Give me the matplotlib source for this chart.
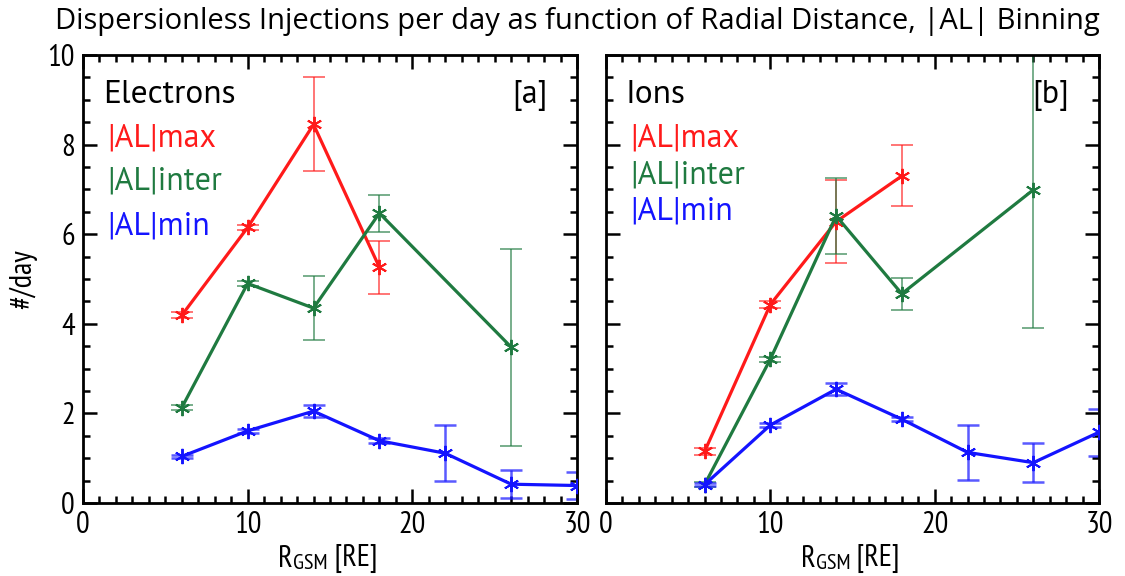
import numpy as np
import matplotlib
matplotlib.use('Agg')
import matplotlib.pyplot as plt
from matplotlib.ticker import MultipleLocator

# Datos: Electrones [a]
x_e_max = [6, 10, 14, 18]
y_e_max = [4.19, 6.15, 8.45, 5.26]
err_e_max = [0.07, 0.05, 1.05, 0.59]

x_e_inter = [6, 10, 14, 18, 26]
y_e_inter = [2.13, 4.90, 4.35, 6.47, 3.48]
err_e_inter = [0.06, 0.05, 0.72, 0.41, 2.2]

x_e_min = [6, 10, 14, 18, 22, 26, 30]
y_e_min = [1.04, 1.61, 2.05, 1.39, 1.11, 0.42, 0.39]
err_e_min = [0.04, 0.04, 0.13, 0.05, 0.62, 0.31, 0.30]

# Datos: Iones [b]
x_i_max = [6, 10, 14, 18]
y_i_max = [1.15, 4.43, 6.28, 7.30]
err_i_max = [0.08, 0.08, 0.93, 0.68]

x_i_inter = [6, 10, 14, 18, 26]
y_i_inter = [0.41, 3.21, 6.41, 4.67, 6.99]
err_i_inter = [0.05, 0.06, 0.85, 0.36, 3.08]

x_i_min = [6, 10, 14, 18, 22, 26, 30]
y_i_min = [0.41, 1.74, 2.54, 1.87, 1.13, 0.90, 1.58]
err_i_min = [0.03, 0.04, 0.14, 0.04, 0.62, 0.44, 0.52]

labels = ['|AL|max', '|AL|inter', '|AL|min']
colores = ['#ff1a1a', '#1f7a40', '#1414ff']
grosor_err = [1.2, 1.2, 1.8]

narrow = ['PT Sans Narrow', 'DejaVu Sans']
normal = ['PT Sans', 'DejaVu Sans']


def panel(ax, series, nombre, letra, ylabels, leg_y):
    for (xx, yy, ee), c, g in zip(series, colores, grosor_err):
        ax.errorbar(xx, yy, yerr=ee, fmt='none', ecolor=c, elinewidth=g,
                    capsize=8, capthick=g, alpha=0.7, zorder=2)
        ax.plot(xx, yy, color=c, lw=2.3, marker=(6, 2, 0), ms=11, mew=1.4,
                zorder=3)
    ax.set_xlim(0, 30)
    ax.set_ylim(0, 10)
    ax.xaxis.set_major_locator(MultipleLocator(10))
    ax.xaxis.set_minor_locator(MultipleLocator(1))
    ax.yaxis.set_major_locator(MultipleLocator(2))
    ax.yaxis.set_minor_locator(MultipleLocator(0.5))
    ax.tick_params(which='both', direction='in', top=True, right=True,
                   width=1.8)
    ax.tick_params(which='major', length=10, labelsize=22, pad=6)
    ax.tick_params(which='minor', length=5)
    for s in ax.spines.values():
        s.set_linewidth(2)
    for t in ax.get_xticklabels() + ax.get_yticklabels():
        t.set_family(narrow)
    if not ylabels:
        ax.set_yticklabels([])
    ax.text(0.04, 0.91, nombre, transform=ax.transAxes, fontsize=24,
            family=normal, va='center')
    ax.text(0.94, 0.91, letra, transform=ax.transAxes, fontsize=23,
            family=normal, va='center', ha='right')
    for lab, c, yy in zip(labels, colores, leg_y):
        ax.text(0.05, yy, lab, transform=ax.transAxes, fontsize=23,
                family=normal, va='center', color=c)
    # etiqueta x: R + GSM en versalitas + [RE]
    t1 = ax.text(0.5 - 0.075, -0.143, 'R', transform=ax.transAxes,
                 fontsize=22, family=narrow, ha='right', va='baseline')
    t2 = ax.annotate('GSM', xy=(1, 0), xycoords=t1, fontsize=16,
                     family=narrow, va='bottom', ha='left')
    ax.annotate(' [RE]', xy=(1, 0), xycoords=t2, fontsize=22,
                family=narrow, va='bottom', ha='left')


fig = plt.figure(figsize=(11.25, 5.76), dpi=100)
ax1 = fig.add_axes([83 / 1125, 73 / 576, 494 / 1125, 448 / 576])
ax2 = fig.add_axes([606 / 1125, 73 / 576, 493 / 1125, 448 / 576])

panel(ax1, [(x_e_max, y_e_max, err_e_max),
            (x_e_inter, y_e_inter, err_e_inter),
            (x_e_min, y_e_min, err_e_min)],
      'Electrons', '[a]', True, [0.813, 0.717, 0.618])
panel(ax2, [(x_i_max, y_i_max, err_i_max),
            (x_i_inter, y_i_inter, err_i_inter),
            (x_i_min, y_i_min, err_i_min)],
      'Ions', '[b]', False, [0.813, 0.730, 0.650])

ax1.set_ylabel('#/day', fontsize=22, family=narrow)
ax1.yaxis.set_label_coords(-0.092, 0.5)

fig.text(0.513, 0.962, 'Dispersionless Injections per day as function of '
         'Radial Distance, |AL| Binning', ha='center', va='center',
         fontsize=21, family=['Open Sans', 'DejaVu Sans'])

fig.savefig('out.png', dpi=100)
